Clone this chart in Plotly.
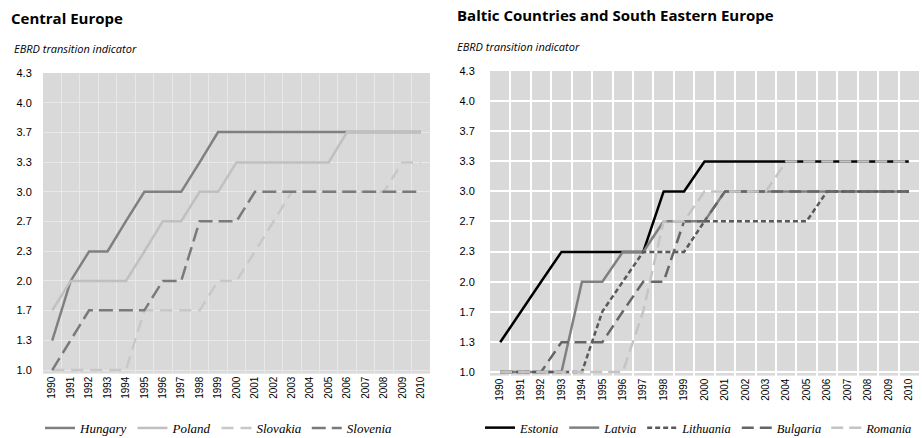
import plotly.graph_objects as go

# EBRD scores: 1, 1+ (1.33), 2- (1.67), 2, ...
years = [str(y) for y in range(1990, 2011)]

hungary = [1.33, 2.0, 2.33, 2.33, 2.67, 3.0, 3.0, 3.0, 3.33, 3.67, 3.67, 3.67, 3.67, 3.67, 3.67,
           3.67, 3.67, 3.67, 3.67, 3.67, 3.67]
poland = [1.67, 2.0, 2.0, 2.0, 2.0, 2.33, 2.67, 2.67, 3.0, 3.0, 3.33, 3.33, 3.33, 3.33, 3.33,
          3.33, 3.67, 3.67, 3.67, 3.67, 3.67]
slovakia = [1.0, 1.0, 1.0, 1.0, 1.0, 1.67, 1.67, 1.67, 1.67, 2.0, 2.0, 2.33, 2.67, 3.0, 3.0,
            3.0, 3.0, 3.0, 3.0, 3.33, 3.33]
slovenia = [1.0, 1.33, 1.67, 1.67, 1.67, 1.67, 2.0, 2.0, 2.67, 2.67, 2.67, 3.0, 3.0, 3.0, 3.0,
            3.0, 3.0, 3.0, 3.0, 3.0, 3.0]

estonia = [1.33, 1.67, 2.0, 2.33, 2.33, 2.33, 2.33, 2.33, 3.0, 3.0, 3.33, 3.33, 3.33, 3.33, 3.33,
           3.33, 3.33, 3.33, 3.33, 3.33, 3.33]
latvia = [1.0, 1.0, 1.0, 1.0, 2.0, 2.0, 2.33, 2.33, 2.67, 2.67, 2.67, 3.0, 3.0, 3.0, 3.0,
          3.0, 3.0, 3.0, 3.0, 3.0, 3.0]
lithuania = [1.0, 1.0, 1.0, 1.0, 1.0, 1.67, 2.0, 2.33, 2.33, 2.33, 2.67, 2.67, 2.67, 2.67, 2.67,
             2.67, 3.0, 3.0, 3.0, 3.0, 3.0]
bulgaria = [1.0, 1.0, 1.0, 1.33, 1.33, 1.33, 1.67, 2.0, 2.0, 2.67, 2.67, 3.0, 3.0, 3.0, 3.0,
            3.0, 3.0, 3.0, 3.0, 3.0, 3.0]
romania = [1.0, 1.0, 1.0, 1.0, 1.0, 1.0, 1.0, 1.67, 2.67, 2.67, 3.0, 3.0, 3.0, 3.0, 3.33,
           3.33, 3.33, 3.33, 3.33, 3.33, 3.33]

y_ticks = [1.0, 4/3, 5/3, 2.0, 7/3, 8/3, 3.0, 10/3, 11/3, 4.0, 13/3]
y_labels = ['1.0', '1.3', '1.7', '2.0', '2.3', '2.7', '3.0', '3.3', '3.7', '4.0', '4.3']

left = [
    ('Hungary', hungary, '#808080', 'solid'),
    ('Poland', poland, '#c0c0c0', 'solid'),
    ('Slovakia', slovakia, '#c8c8c8', '12px,7px'),
    ('Slovenia', slovenia, '#7a7a7a', '14px,6px'),
]
right = [
    ('Estonia', estonia, '#000000', 'solid'),
    ('Latvia', latvia, '#808080', 'solid'),
    ('Lithuania', lithuania, '#595959', '5px,3px'),
    ('Bulgaria', bulgaria, '#666666', '12px,6px'),
    ('Romania', romania, '#c4c4c4', '12px,6px'),
]

fig = go.Figure()

for name, vals, col, dash in left:
    fig.add_trace(go.Scatter(x=years, y=vals, mode='lines', name=name,
                             line=dict(color=col, width=2.5, dash=dash),
                             xaxis='x', yaxis='y', legend='legend'))
for name, vals, col, dash in right:
    fig.add_trace(go.Scatter(x=years, y=vals, mode='lines', name=name,
                             line=dict(color=col, width=2.5, dash=dash),
                             xaxis='x2', yaxis='y2', legend='legend2'))

tick_font = dict(family='Liberation Sans', size=10, color='#000000')

xcommon = dict(type='category', tickson='boundaries', ticks='', tickangle=-90,
               range=[-0.5, 20.5], automargin=False,
               tickfont=tick_font, showline=False, zeroline=False)
# range dips a little under 1.0 so lines sitting at 1.0 are not clipped in half
ycommon = dict(range=[0.96, 13/3], tickvals=y_ticks, ticktext=y_labels, automargin=False,
               tickfont=dict(family='Liberation Sans', size=11, color='#000000'),
               ticks='outside', tickcolor='rgba(0,0,0,0)', zeroline=False, showline=False)

fig.update_layout(
    width=922, height=438,
    margin=dict(l=0, r=0, t=0, b=0, autoexpand=False),
    paper_bgcolor='white',
    plot_bgcolor='#d9d9d9',
    xaxis=dict(xcommon, domain=[43/922, 430/922], anchor='y',
               gridcolor='#e8e8e8', gridwidth=1),
    yaxis=dict(ycommon, domain=[1 - 373.6/438, 1 - 73/438], anchor='x',
               gridcolor='#e8e8e8', gridwidth=1, ticklen=8),
    xaxis2=dict(xcommon, domain=[490/922, 919/922], anchor='y2',
                gridcolor='#ffffff', gridwidth=2),
    yaxis2=dict(ycommon, domain=[1 - 375.6/438, 1 - 71/438], anchor='x2',
                gridcolor='#ffffff', gridwidth=2, ticklen=12),
    legend=dict(orientation='h', x=40/922, y=1 - 428/438, xanchor='left', yanchor='middle',
                font=dict(family='Liberation Serif', size=13, color='#000000', style='italic'),
                itemwidth=30, bgcolor='rgba(0,0,0,0)'),
    legend2=dict(orientation='h', x=480/922, y=1 - 428/438, xanchor='left', yanchor='middle',
                 font=dict(family='Liberation Serif', size=12.5, color='#000000', style='italic'),
                 itemwidth=30, bgcolor='rgba(0,0,0,0)'),
    annotations=[
        dict(text='<b>Central Europe</b>', x=9/922, y=1 - 18/438, xref='paper', yref='paper',
             xanchor='left', yanchor='middle', showarrow=False,
             font=dict(family='Open Sans', size=15, color='#000000')),
        dict(text='<i>EBRD transition indicator</i>', x=12/922, y=1 - 49/438, xref='paper',
             yref='paper', xanchor='left', yanchor='middle', showarrow=False,
             font=dict(family='Open Sans', size=11, color='#000000')),
        dict(text='<b>Baltic Countries and South Eastern Europe</b>', x=455/922, y=1 - 15/438,
             xref='paper', yref='paper', xanchor='left', yanchor='middle', showarrow=False,
             font=dict(family='Open Sans', size=15, color='#000000')),
        dict(text='<i>EBRD transition indicator</i>', x=455/922, y=1 - 46/438, xref='paper',
             yref='paper', xanchor='left', yanchor='middle', showarrow=False,
             font=dict(family='Open Sans', size=11, color='#000000')),
    ],
)

# page has a default 8px body margin; drop it so the figure sits at the window's corner
fig.write_html("out.html", config={'displayModeBar': False},
               post_script="document.body.style.margin='0';")
